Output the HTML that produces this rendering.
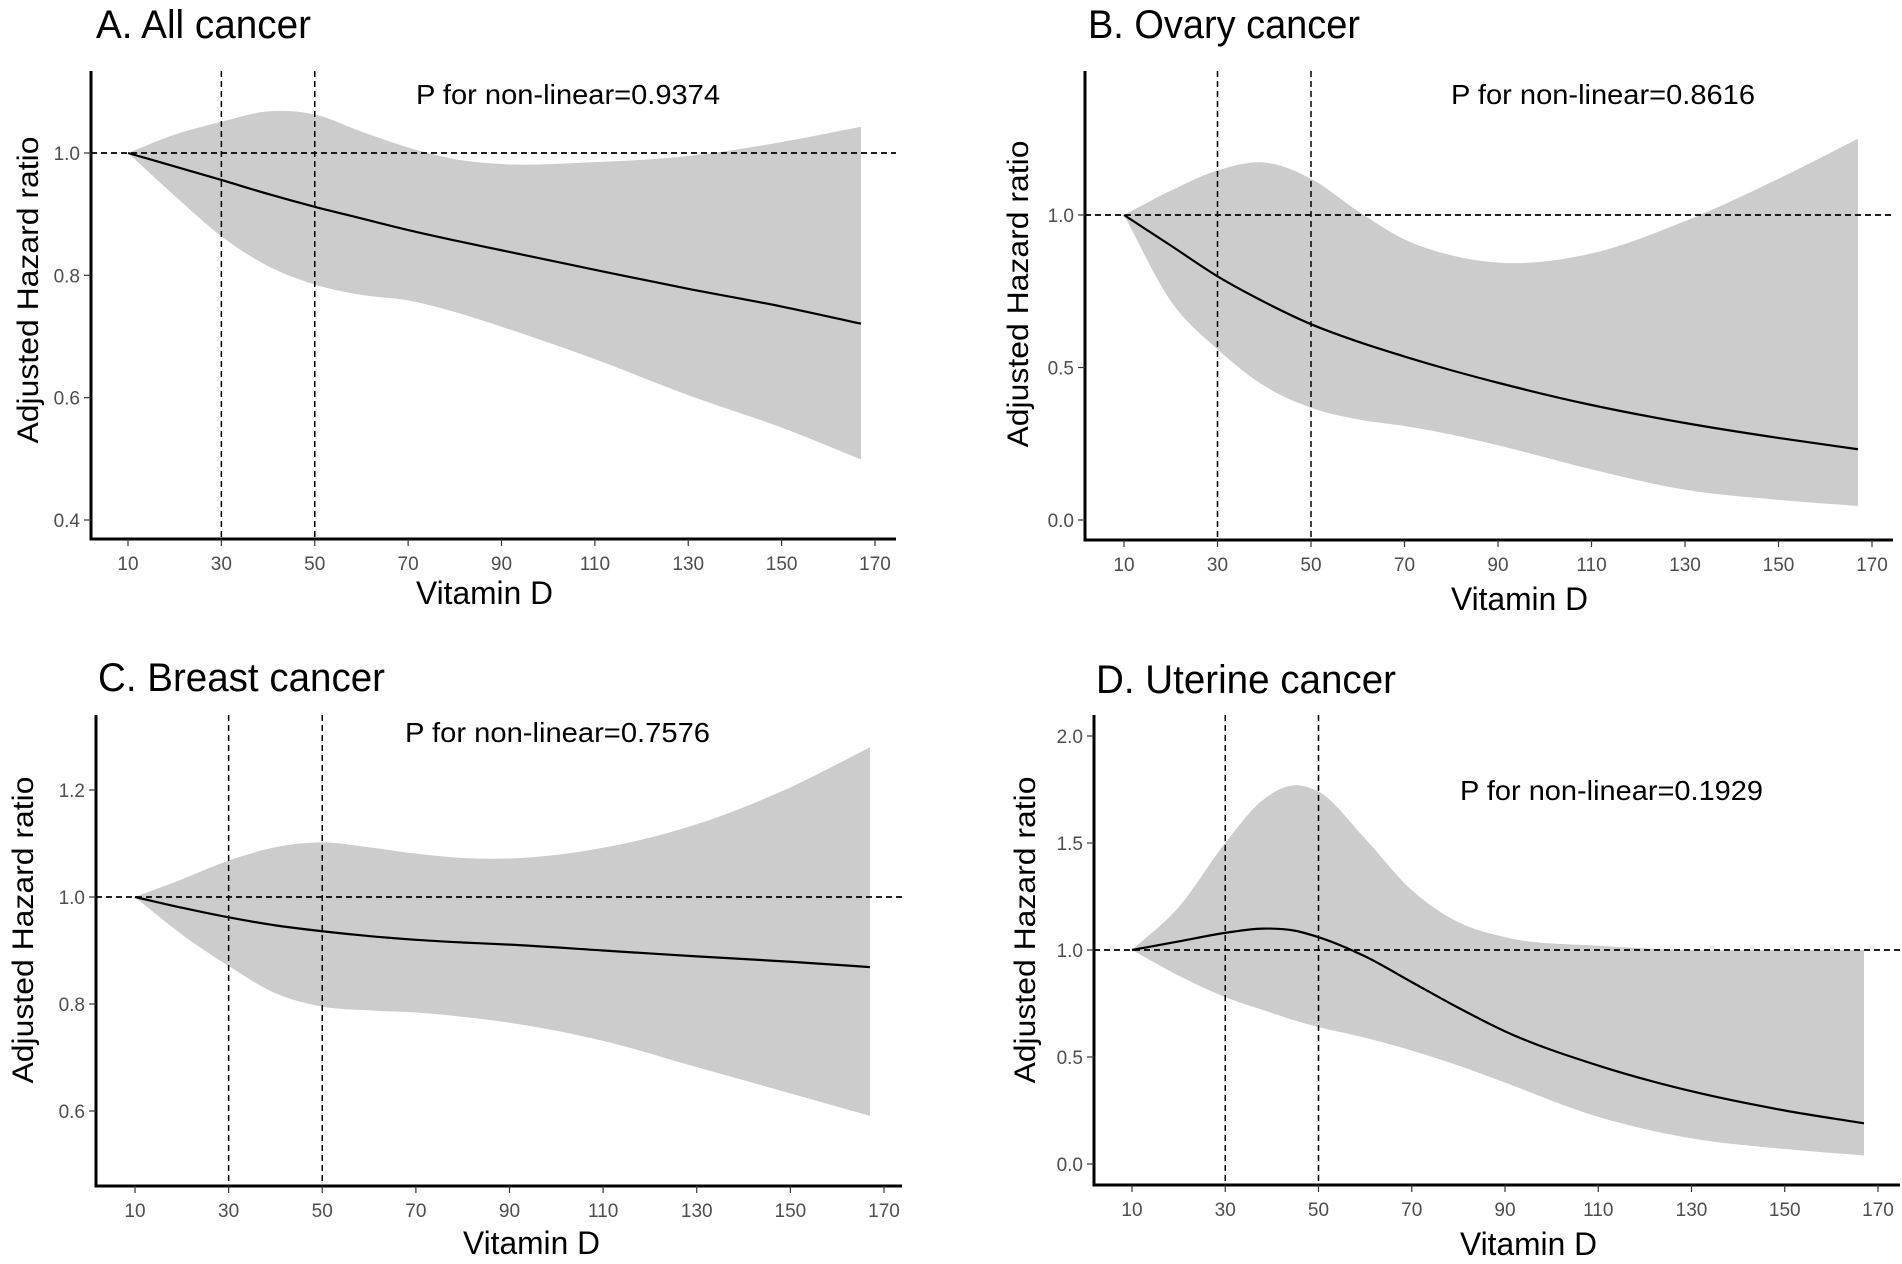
<!DOCTYPE html>
<html><head><meta charset="utf-8"><style>
html,body{margin:0;padding:0;background:#fff;}
svg{display:block;}
</style></head><body>
<svg id="fig" width="1902" height="1264" viewBox="0 0 1902 1264" xmlns="http://www.w3.org/2000/svg"></svg>
<script>
const xTicks = [10,30,50,70,90,110,130,150,170];
// Panel A
const aX = [10,20,30,40,50,60,70,80,90,110,130,150,167];
const aLine = [1.0,0.978,0.956,0.933,0.912,0.893,0.874,0.857,0.841,0.809,0.778,0.749,0.721];
const aUpper = [1.0,1.03,1.051,1.068,1.063,1.035,1.009,0.99,0.982,0.985,0.995,1.018,1.043];
const aLower = [1.0,0.93,0.864,0.815,0.785,0.768,0.759,0.74,0.716,0.663,0.604,0.551,0.499];
const aYTicks = [0.4,0.6,0.8,1.0];
// Panel B
const bX = [10,20,30,40,50,60,70,80,90,110,130,150,167];
const bLine = [1.0,0.9,0.799,0.715,0.642,0.585,0.536,0.491,0.45,0.377,0.318,0.269,0.232];
const bUpper = [1.0,1.08,1.146,1.172,1.119,1.013,0.92,0.868,0.844,0.874,0.98,1.119,1.25];
const bLower = [1.0,0.718,0.56,0.44,0.368,0.33,0.308,0.28,0.245,0.166,0.099,0.066,0.046];
const bYTicks = [0.0,0.5,1.0];
// Panel C
const cX = [10,20,30,40,50,60,70,80,90,110,130,150,167];
const cLine = [1.0,0.98,0.962,0.947,0.936,0.927,0.92,0.915,0.911,0.9,0.889,0.879,0.869];
const cUpper = [1.0,1.033,1.068,1.093,1.102,1.093,1.081,1.073,1.072,1.092,1.136,1.205,1.28];
const cLower = [1.0,0.93,0.871,0.82,0.795,0.788,0.784,0.776,0.765,0.731,0.682,0.633,0.591];
const cYTicks = [0.6,0.8,1.0,1.2];
// Panel D
const dX = [10,20,30,38,45,50,60,70,80,90,110,130,150,167];
const dLine = [1.0,1.04,1.08,1.10,1.09,1.06,0.97,0.85,0.73,0.62,0.46,0.34,0.25,0.19];
const dUpper = [1.0,1.2,1.5,1.7,1.77,1.74,1.52,1.28,1.13,1.06,1.02,1.0,1.0,1.0];
const dLower = [1.0,0.88,0.78,0.72,0.67,0.64,0.59,0.53,0.46,0.38,0.22,0.12,0.07,0.04];
const dYTicks = [0.0,0.5,1.0,1.5,2.0];

const NS = "http://www.w3.org/2000/svg";
const svg = document.getElementById('fig');
function mk(tag, attrs, parent, text){
  const e = document.createElementNS(NS, tag);
  for (const k in attrs) e.setAttribute(k, attrs[k]);
  if (text !== undefined) e.textContent = text;
  (parent||svg).appendChild(e);
  return e;
}
// Hermite spline parameterised by x (points sorted by x, ascending or descending)
function spline(pts, noMove){
  const n = pts.length;
  const m = [];
  for (let i=0;i<n;i++){
    if (i===0) m.push((pts[1][1]-pts[0][1])/(pts[1][0]-pts[0][0]));
    else if (i===n-1) m.push((pts[n-1][1]-pts[n-2][1])/(pts[n-1][0]-pts[n-2][0]));
    else {
      const s0=(pts[i][1]-pts[i-1][1])/(pts[i][0]-pts[i-1][0]);
      const s1=(pts[i+1][1]-pts[i][1])/(pts[i+1][0]-pts[i][0]);
      const h0=pts[i][0]-pts[i-1][0], h1=pts[i+1][0]-pts[i][0];
      m.push((s0*h1+s1*h0)/(h0+h1));
    }
  }
  let d = noMove ? '' : 'M' + pts[0][0].toFixed(2) + ',' + pts[0][1].toFixed(2);
  for (let i=0;i<n-1;i++){
    const h = pts[i+1][0]-pts[i][0];
    const c1x = pts[i][0]+h/3, c1y = pts[i][1]+m[i]*h/3;
    const c2x = pts[i+1][0]-h/3, c2y = pts[i+1][1]-m[i+1]*h/3;
    d += 'C'+c1x.toFixed(2)+','+c1y.toFixed(2)+' '+c2x.toFixed(2)+','+c2y.toFixed(2)+' '+pts[i+1][0].toFixed(2)+','+pts[i+1][1].toFixed(2);
  }
  return d;
}
const NARROW = '"Liberation Sans Narrow","Liberation Sans",sans-serif';
function panel(cfg){
  const g = mk('g', {});
  
  
  const sx = v => cfg.x10 + (v-10)*(cfg.x170-cfg.x10)/160;
  const sy = v => cfg.yA + (v-cfg.vA)*(cfg.yB-cfg.yA)/(cfg.vB-cfg.vA);
  const up = cfg.xs.map((x,i)=>[sx(x), sy(cfg.upper[i])]);
  const lo = cfg.xs.map((x,i)=>[sx(x), sy(cfg.lower[i])]).reverse();
  let d = spline(up);
  d += 'L' + lo[0][0].toFixed(2)+','+lo[0][1].toFixed(2) + spline(lo, true) + 'Z';
  const band = mk('path', {d:d, fill:'#cccccc', stroke:'none'}, g);
  
  
  const h = mk('line', {x1:cfg.ax, x2:cfg.right, y1:sy(1), y2:sy(1), stroke:'#000', 'stroke-width':1.8, 'stroke-dasharray':'6,4'}, g);
  
  
  [30,50].forEach(v=>{
    const l = mk('line', {x1:sx(v), x2:sx(v), y1:cfg.top, y2:cfg.bottom, stroke:'#000', 'stroke-width':1.5, 'stroke-dasharray':'6,4'}, g);
    
    
  });
  const ln = mk('path', {d: spline(cfg.xs.map((x,i)=>[sx(x), sy(cfg.line[i])])), fill:'none', stroke:'#000', 'stroke-width':2.2}, g);
  
  
  const ya = mk('line', {x1:cfg.ax, x2:cfg.ax, y1:cfg.top, y2:cfg.bottom+1.5, stroke:'#000', 'stroke-width':3}, g);
  
  
  const xa = mk('line', {x1:cfg.ax-1.5, x2:cfg.right, y1:cfg.bottom, y2:cfg.bottom, stroke:'#000', 'stroke-width':3}, g);
  
  
  xTicks.forEach(v=>{
    mk('line', {x1:sx(v), x2:sx(v), y1:cfg.bottom, y2:cfg.bottom+7, stroke:'#333', 'stroke-width':1.2}, g);
    const t = mk('text', {x:sx(v), y:cfg.bottom+31, 'text-anchor':'middle', 'font-family':NARROW, 'font-size':19, fill:'#4d4d4d'}, g, String(v));
    
    
  });
  cfg.yticks.forEach(v=>{
    mk('line', {x1:cfg.ax-7, x2:cfg.ax, y1:sy(v), y2:sy(v), stroke:'#333', 'stroke-width':1.2}, g);
    const t = mk('text', {x:cfg.ax-11, y:sy(v)+7, 'text-anchor':'end', 'font-family':NARROW, 'font-size':19, fill:'#4d4d4d'}, g, v.toFixed(1));
    
    
  });
  const ti = mk('text', {x:cfg.tx, y:cfg.ty, 'font-family':NARROW, 'font-size':40, fill:'#000', textLength:cfg.tw, lengthAdjust:'spacingAndGlyphs'}, g, cfg.title);
  
  
  const p = mk('text', {x:cfg.px, y:cfg.py, 'font-family':NARROW, 'font-size':28, fill:'#000', textLength:cfg.pw, lengthAdjust:'spacingAndGlyphs'}, g, cfg.ptext);
  
  
  const xt = mk('text', {x:cfg.vx, y:cfg.vy, 'font-family':NARROW, 'font-size':32, fill:'#000', textLength:137, lengthAdjust:'spacingAndGlyphs'}, g, 'Vitamin D');
  
  
  const yt = mk('text', {x:0, y:0, 'font-family':'"Liberation Sans",sans-serif', 'font-size':30, fill:'#000', textLength:307, lengthAdjust:'spacingAndGlyphs', 'text-anchor':'middle', transform:'translate('+cfg.yx+','+cfg.yy+') rotate(-90)'}, g, 'Adjusted Hazard ratio');
  
  
}
panel({name:'panel-a-all-cancer', xs:aX, line:aLine, upper:aUpper, lower:aLower, yticks:aYTicks,
  ax:91, top:71, bottom:539, right:896, x10:128, x170:875, vA:1.0, yA:153, vB:0.4, yB:520,
  title:'A. All cancer', tx:96, ty:38, tw:215, ptext:'P for non-linear=0.9374', px:416, py:104, pw:304,
  vx:416, vy:604, yx:38, yy:290});
panel({name:'panel-b-ovary-cancer', xs:bX, line:bLine, upper:bUpper, lower:bLower, yticks:bYTicks,
  ax:1085, top:71, bottom:540, right:1893, x10:1124, x170:1872, vA:1.0, yA:215, vB:0.0, yB:520,
  title:'B. Ovary cancer', tx:1088, ty:38, tw:272, ptext:'P for non-linear=0.8616', px:1451, py:104, pw:304,
  vx:1451, vy:610, yx:1028, yy:294});
panel({name:'panel-c-breast-cancer', xs:cX, line:cLine, upper:cUpper, lower:cLower, yticks:cYTicks,
  ax:96, top:715, bottom:1186, right:902, x10:135, x170:884, vA:1.0, yA:897, vB:0.6, yB:1111,
  title:'C. Breast cancer', tx:98, ty:691, tw:287, ptext:'P for non-linear=0.7576', px:405, py:742, pw:305,
  vx:463, vy:1254, yx:33, yy:930});
panel({name:'panel-d-uterine-cancer', xs:dX, line:dLine, upper:dUpper, lower:dLower, yticks:dYTicks,
  ax:1094, top:715, bottom:1185, right:1900, x10:1132, x170:1878, vA:0.0, yA:1164, vB:2.0, yB:736,
  title:'D. Uterine cancer', tx:1096, ty:693, tw:300, ptext:'P for non-linear=0.1929', px:1460, py:800, pw:303,
  vx:1460, vy:1255, yx:1035, yy:930});
</script>
</body></html>
